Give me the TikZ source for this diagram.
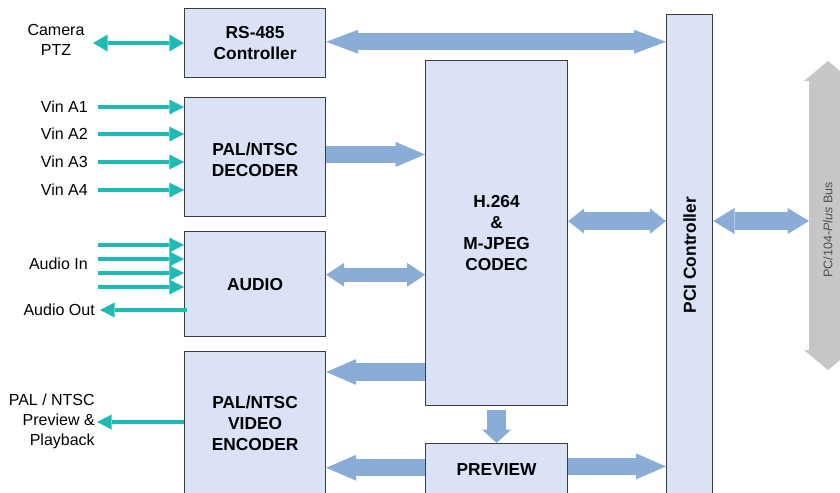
\documentclass[tikz,border=0pt]{standalone}
\usepackage{fontspec}
\setmainfont{Liberation Sans}
\usetikzlibrary{arrows.meta}
\definecolor{boxfill}{HTML}{DCE2F5}
\definecolor{boxline}{HTML}{3C3C3C}
\definecolor{fatblue}{HTML}{8AADD8}
\definecolor{sigteal}{HTML}{1FBAB3}
\definecolor{busgray}{HTML}{C6C6C8}
\definecolor{bustext}{HTML}{505050}
\begin{document}
\begin{tikzpicture}[x=0.75pt,y=-0.75pt,
  blk/.style={draw=boxline, line width=0.9pt, fill=boxfill, inner sep=0pt, anchor=north west},
  wh/.style 2 args={minimum width=#1*0.75pt, minimum height=#2*0.75pt},
  blktext/.style={font=\bfseries\fontsize{13}{15.75}\selectfont, align=center, inner sep=0pt},
  lbl/.style={font=\fontsize{12}{15}\selectfont, inner sep=0pt},
  sig/.style={draw=sigteal, line width=3pt},
  st/.tip={Triangle[width=11.25pt,length=11pt,line width=0pt]},
  stc/.tip={Triangle[width=12.75pt,length=11pt,line width=0pt]},
  fat/.style={draw=fatblue, line width=#1},
  fat/.default=12.75pt]
\useasboundingbox (0,0) rectangle (840,493);

% ---------- blocks ----------
\node[blk, wh={141}{69}]  (rs)  at (184,8)   {};
\node[blk, wh={141}{119}] (dec) at (184,97)  {};
\node[blk, wh={141}{105}] (aud) at (184,231) {};
\node[blk, wh={141}{144}] (enc) at (184,351) {};
\node[blk, wh={142}{345}] (codec) at (425,60) {};
\node[blk, wh={142}{51}]  (prev) at (425,443) {};
\node[blk, wh={46}{481}]  (pci) at (666,14) {};

\node[blktext] (rst) at (rs.center) {RS-485\\Controller};
\node[blktext] (dect) at ([yshift=-2pt]dec.center) {PAL/NTSC\\DECODER};
\node[blktext] (audt) at (aud.center) {AUDIO};
\node[blktext] (enct) at (enc.center) {PAL/NTSC\\VIDEO\\ENCODER};
\node[blktext] (codect) at (codec.center) {H.264\\\&\\M-JPEG\\CODEC};
\node[blktext] (prevt) at (prev.center) {PREVIEW};
\node[blktext, rotate=90] (pcit) at (pci.center) {PCI Controller};

% ---------- bus ----------
\coordinate (busT) at (828,61);
\coordinate (busB) at (828,370);
\coordinate (busL) at (809,221);
\draw[draw=busgray, line width=28.5pt,
  {Triangle[width=36pt,length=15pt,line width=0pt]}-{Triangle[width=36pt,length=15pt,line width=0pt]}]
  (busT) -- (busB);
\node[rotate=90, inner sep=0pt, text=bustext, font=\fontsize{9.4}{11}\selectfont] (bustxt) at (828,230) {PC/104-\textit{Plus} Bus};

% ---------- fat arrows ----------
\draw[fat, {Triangle[width=18pt,length=24pt,line width=0pt]}-{Triangle[width=18pt,length=24pt,line width=0pt]}]
  ([yshift=1pt]rs.east) -- ([yshift=1pt]pci.west |- rs.east);
\draw[fat, -{Triangle[width=18.75pt,length=22pt,line width=0pt]}]
  ([yshift=2pt]dec.east) -- ([yshift=2pt]codec.west |- dec.east);
\draw[fat=10.5pt, {Triangle[width=18pt,length=13.5pt,line width=0pt]}-{Triangle[width=18pt,length=13.5pt,line width=0pt]}]
  ([yshift=7pt]aud.east) -- ([yshift=7pt]codec.west |- aud.east);
\draw[fat=13.5pt, -{Triangle[width=19.5pt,length=22.5pt,line width=0pt]}]
  ([yshift=-15.75pt]enc.north east -| codec.west) -- ([yshift=-15.75pt]enc.north east);
\draw[fat=13.5pt, {Triangle[width=19pt,length=12pt,line width=0pt]}-{Triangle[width=19pt,length=12pt,line width=0pt]}]
  ([yshift=9pt]codec.east) -- ([yshift=9pt]pci.west |- codec.east);
\draw[fat=13.5pt, {Triangle[width=19.5pt,length=16pt,line width=0pt]}-{Triangle[width=19.5pt,length=16pt,line width=0pt]}]
  (pci.east |- busL) -- (busL);
\draw[fat=14.25pt, -{Triangle[width=21.75pt,length=10pt,line width=0pt]}, shorten <=3pt]
  (codec.south) -- (prev.north);
\draw[fat, -{Triangle[width=19.5pt,length=22.5pt,line width=0pt]}]
  ([yshift=2pt]prev.east) -- ([yshift=2pt]pci.west |- prev.east);
\draw[fat, -{Triangle[width=19.5pt,length=22.5pt,line width=0pt]}]
  ([yshift=1pt]prev.west) -- ([yshift=1pt]enc.east |- prev.west);

% ---------- external signals ----------
\node[lbl, align=center] (cam) at (56,40) {Camera\\PTZ};
\coordinate (camE) at (93,43);
\draw[sig, stc-stc] (camE) -- (rs.west |- camE);

\node[lbl, anchor=east] (v1) at (88,107) {Vin A1};
\node[lbl, anchor=east] (v2) at (88,134) {Vin A2};
\node[lbl, anchor=east] (v3) at (88,162) {Vin A3};
\node[lbl, anchor=east] (v4) at (88,190) {Vin A4};
\coordinate (v1s) at (98,107);
\coordinate (v2s) at (98,134);
\coordinate (v3s) at (98,162);
\coordinate (v4s) at (98,190);
\foreach \c in {v1s,v2s,v3s,v4s}
  \draw[sig, -st] (\c) -- (dec.west |- \c);

\node[lbl, anchor=east] (ain) at (88,264) {Audio In};
\coordinate (a1s) at (98,245);
\coordinate (a2s) at (98,259);
\coordinate (a3s) at (98,273);
\coordinate (a4s) at (98,287);
\foreach \c in {a1s,a2s,a3s,a4s}
  \draw[sig, -st] (\c) -- (aud.west |- \c);

\node[lbl, anchor=east] (aout) at (95,310) {Audio Out};
\coordinate (aoe) at (100,310);
\draw[sig, -st] ([xshift=2pt]aud.west |- aoe) -- (aoe);

\node[lbl, align=right, anchor=east] (pv) at (95,421) {PAL / NTSC\\Preview \&\\Playback};
\coordinate (pve) at (97,422);
\draw[sig, -st] (enc.west |- pve) -- (pve);
\end{tikzpicture}
\end{document}
